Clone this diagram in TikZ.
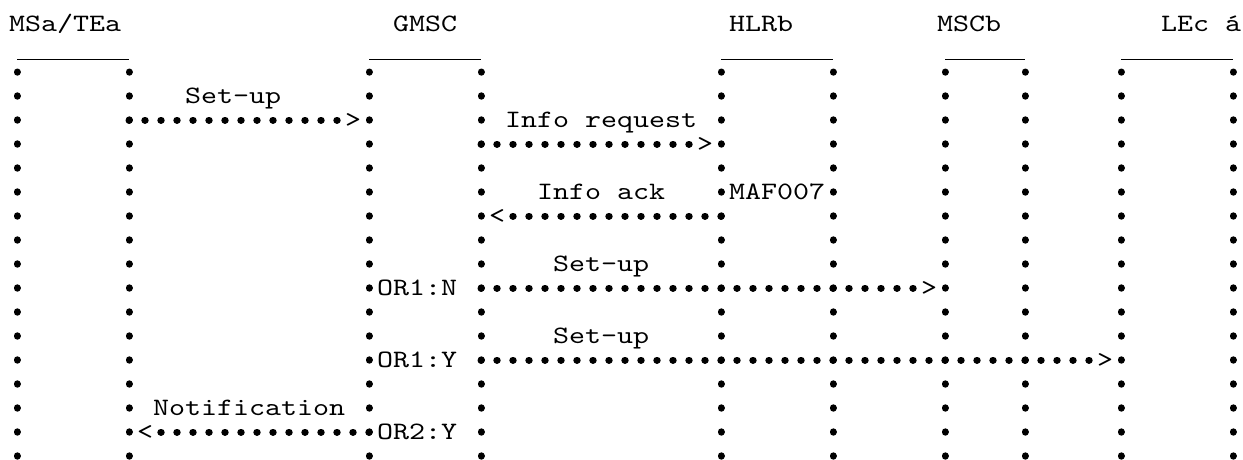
\documentclass[tikz,border=0pt]{standalone}
\usepackage{fontspec}
\newfontfamily\monofnt{lmmono10-regular.otf}[FakeStretch=1.21905]
\begin{document}
\begin{tikzpicture}[x=1pt,y=-1pt,
  lbl/.style={font={\monofnt\fontsize{25}{30}\selectfont}, inner sep=0pt, anchor=base west},
  vdots/.style={line width=7pt, line cap=round, dash pattern=on 0.4pt off 23.6pt, dash phase=0.2pt},
  hdots/.style={line width=7pt, line cap=round, dash pattern=on 0.4pt off 15.6pt, dash phase=0.2pt},
  uline/.style={line width=1pt}]
\useasboundingbox (0,0) rectangle (1243,459);
% headers
\node[lbl] (hA) at (9,31) {MSa/TEa};
\node[lbl] (hG) at (393,31) {GMSC};
\node[lbl] (hH) at (729,31) {HLRb};
\node[lbl] (hM) at (937,31) {MSCb};
\node[lbl] (hL) at (1161,31) {LEc á};
% lifeline coordinates (underline end, first dot, last dot)
\foreach \n/\x in {A1/17,A2/129,G1/369,G2/481,H1/721,H2/833,M1/945,M2/1025,L1/1121,L2/1233}{
  \coordinate (u\n) at (\x,59);
  \coordinate (t\n) at (\x,72);
  \coordinate (b\n) at (\x,457);
}
% underlines
\draw[uline] (uA1) -- (uA2);
\draw[uline] (uG1) -- (uG2);
\draw[uline] (uH1) -- (uH2);
\draw[uline] (uM1) -- (uM2);
\draw[uline] (uL1) -- (uL2);
% lifelines
\foreach \n in {A1,A2,G1,G2,H1,H2,M1,M2,L1,L2}{
  \draw[vdots] (t\n) -- (b\n);
}
% message 1: Set-up MSa -> GMSC
\coordinate (m1s) at (129,120);
\coordinate (m1e) at (338,120);
\draw[hdots] (m1s) -- (m1e);
\node[lbl] (m1h) at (345,127) {>};
\node[lbl] (m1l) at (185,103) {Set-up};
% message 2: Info request GMSC -> HLRb
\coordinate (m2s) at (481,144);
\coordinate (m2e) at (690,144);
\draw[hdots] (m2s) -- (m2e);
\node[lbl] (m2h) at (697,151) {>};
\node[lbl] (m2l) at (505,127) {Info request};
% message 3: Info ack HLRb -> GMSC
\coordinate (m3s) at (721,216);
\coordinate (m3e) at (512,216);
\draw[hdots] (m3s) -- (m3e);
\node[lbl] (m3h) at (489,223) {<};
\node[lbl] (m3l) at (537,199) {Info ack};
\node[lbl] (maf) at (729,199) {MAF007};
% message 4: Set-up GMSC -> MSCb
\coordinate (m4s) at (481,288);
\coordinate (m4e) at (914,288);
\draw[hdots] (m4s) -- (m4e);
\node[lbl] (m4h) at (921,295) {>};
\node[lbl] (m4l) at (553,271) {Set-up};
\node[lbl] (or1n) at (377,295) {OR1:N};
% message 5: Set-up GMSC -> LEc
\coordinate (m5s) at (481,360);
\coordinate (m5e) at (1090,360);
\draw[hdots] (m5s) -- (m5e);
\node[lbl] (m5h) at (1097,367) {>};
\node[lbl] (m5l) at (553,343) {Set-up};
\node[lbl] (or1y) at (377,367) {OR1:Y};
% message 6: Notification GMSC -> MSa
\coordinate (m6s) at (369,432);
\coordinate (m6e) at (160,432);
\draw[hdots] (m6s) -- (m6e);
\node[lbl] (m6h) at (137,439) {<};
\node[lbl] (m6l) at (153,415) {Notification};
\node[lbl] (or2y) at (377,439) {OR2:Y};
\end{tikzpicture}
\end{document}
